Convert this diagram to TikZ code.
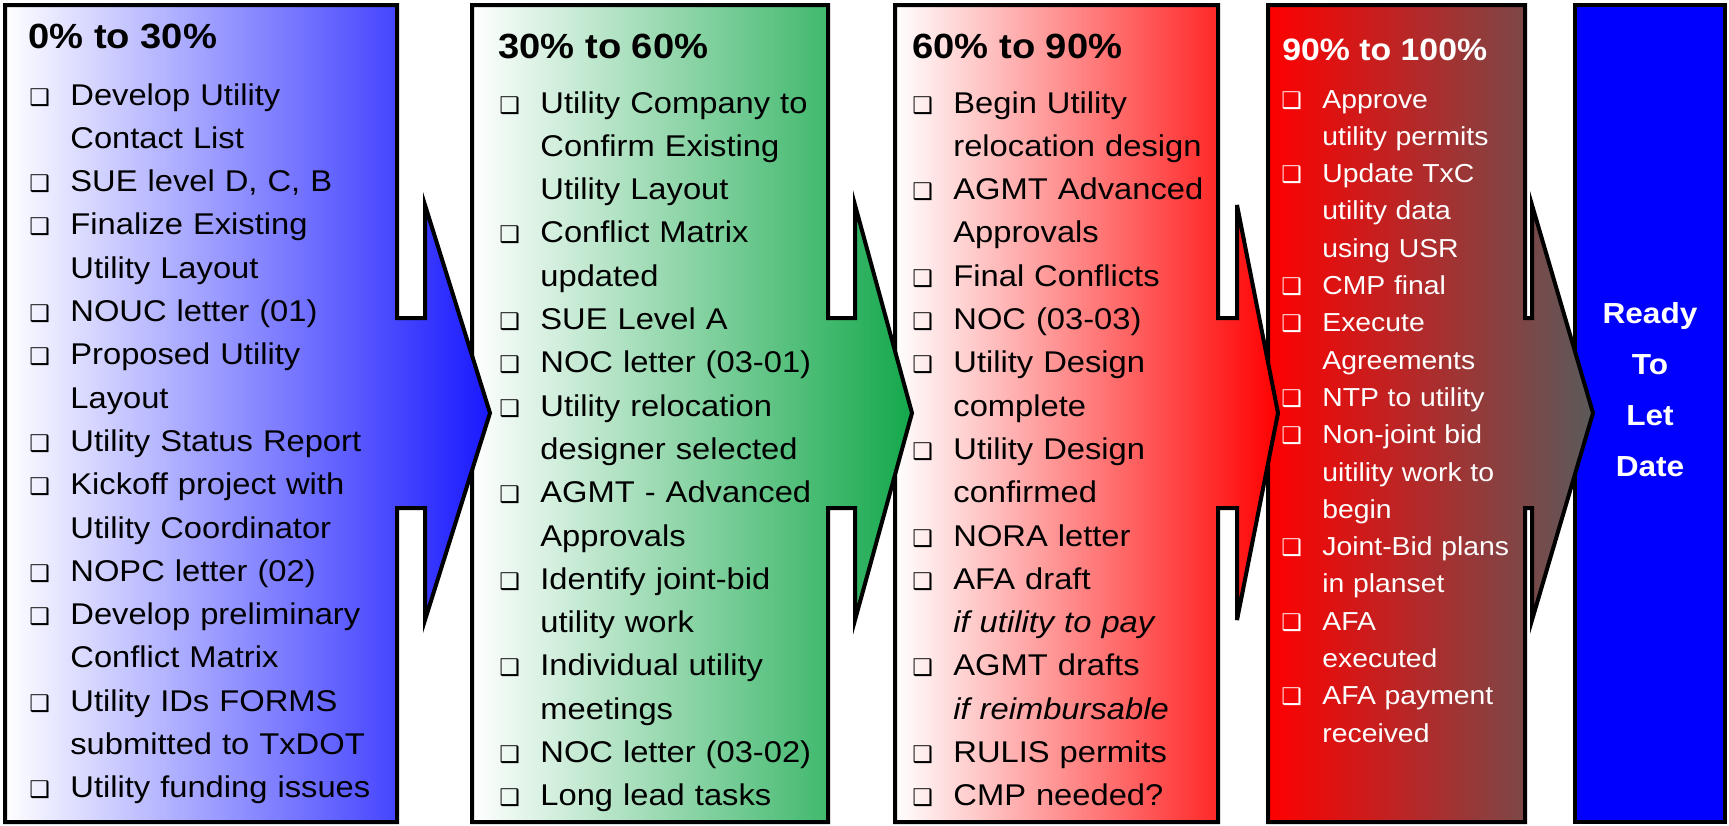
\documentclass[tikz,border=0pt]{standalone}
\usepackage{fontspec}
\setmainfont[FakeStretch=1.09]{Liberation Sans}
\newfontfamily\boxfont{DejaVu Sans}
\usepackage{tikz}

\definecolor{phaseblue}{RGB}{25,25,255}
\definecolor{phasegreen}{RGB}{20,168,75}
\definecolor{phasered}{RGB}{255,0,0}
\definecolor{phasegray}{RGB}{90,90,90}
\definecolor{letblue}{RGB}{0,0,255}

\newlength{\bulletind}
\setlength{\bulletind}{20.5pt}
\newcommand{\bx}{{\boxfont\fontsize{11.5}{11.5}\selectfont ❑}}
\newcommand{\itm}[1]{\hangindent=\bulletind\hangafter=1\noindent\hbox to\bulletind{\bx\hfil}#1\par}

\begin{document}
\begin{tikzpicture}[x=0.5pt, y=-0.5pt,
    panel/.style={draw=black, line width=2pt, line join=miter},
    head/.style={anchor=base west, inner sep=0pt, font=\fontsize{17.5}{21}\selectfont\bfseries},
    items/.style={anchor=base west, inner sep=0pt, text width=190pt, align=left,
      font=\fontsize{15}{21.65}\selectfont},
    smallitems/.style={items, text=white, font=\fontsize{13}{18.65}\selectfont}]
      \useasboundingbox (0,0) rectangle (1729,825);
      \draw[panel, fill=letblue] (1575,5) rectangle (1725,822);
      \draw[panel, left color=phasered, right color=phasegray] (1268,5) -- (1525,5) -- (1525,318)
        -- (1532,318) -- (1532,205) -- (1593,413) -- (1532,620) -- (1532,508) -- (1525,508)
        -- (1525,822) -- (1268,822) -- cycle;
      \draw[panel, left color=white, right color=phasered] (895,5) -- (1218,5) -- (1218,318)
        -- (1237,318) -- (1237,205) -- (1278,413) -- (1237,620) -- (1237,508) -- (1218,508)
        -- (1218,822) -- (895,822) -- cycle;
      \draw[panel, left color=white, right color=phasegreen] (472,5) -- (828,5) -- (828,318)
        -- (855,318) -- (855,205) -- (912,413) -- (855,620) -- (855,508) -- (828,508)
        -- (828,822) -- (472,822) -- cycle;
      \draw[panel, left color=white, right color=phaseblue] (5,5) -- (397,5) -- (397,318)
        -- (425,318) -- (425,205) -- (490,413) -- (425,620) -- (425,508) -- (397,508)
        -- (397,822) -- (5,822) -- cycle;

      \node[head] (h1) at (28,48) {0\% to 30\%};
      \node[items] (t1) at (29,105) {\itm{Develop Utility\newline Contact List}%
        \itm{SUE level D, C, B}%
        \itm{Finalize Existing\newline Utility Layout}%
        \itm{NOUC letter (01)}%
        \itm{Proposed Utility\newline Layout}%
        \itm{Utility Status Report}%
        \itm{Kickoff project with\newline Utility Coordinator}%
        \itm{NOPC letter (02)}%
        \itm{Develop preliminary\newline Conflict Matrix}%
        \itm{Utility IDs FORMS\newline submitted to TxDOT}%
        \itm{Utility funding issues}};

      \node[head] (h2) at (498,58) {30\% to 60\%};
      \node[items] (t2) at (499,113) {\itm{Utility Company to\newline Confirm Existing\newline Utility Layout}%
        \itm{Conflict Matrix\newline updated}%
        \itm{SUE Level A}%
        \itm{NOC letter (03-01)}%
        \itm{Utility relocation\newline designer selected}%
        \itm{AGMT - Advanced\newline Approvals}%
        \itm{Identify joint-bid\newline utility work}%
        \itm{Individual utility\newline meetings}%
        \itm{NOC letter (03-02)}%
        \itm{Long lead tasks}};

      \node[head] (h3) at (912,58) {60\% to 90\%};
      \node[items] (t3) at (912,113) {\itm{Begin Utility\newline relocation design}%
        \itm{AGMT Advanced\newline Approvals}%
        \itm{Final Conflicts}%
        \itm{NOC (03-03)}%
        \itm{Utility Design\newline complete}%
        \itm{Utility Design\newline confirmed}%
        \itm{NORA letter}%
        \itm{AFA draft\newline \textit{if utility to pay}}%
        \itm{AGMT drafts\newline \textit{if reimbursable}}%
        \itm{RULIS permits}%
        \itm{CMP needed?}};

      \node[head, text=white, font=\fontsize{15.5}{19}\selectfont\bfseries] (h4) at (1282,60) {90\% to 100\%};
      \node[smallitems] (t4) at (1281,108) {\itm{Approve\newline utility permits}%
        \itm{Update TxC\newline utility data\newline using USR}%
        \itm{CMP final}%
        \itm{Execute\newline Agreements}%
        \itm{NTP to utility}%
        \itm{Non-joint bid\newline uitility work to\newline begin}%
        \itm{Joint-Bid plans\newline in planset}%
        \itm{AFA\newline executed}%
        \itm{AFA payment\newline received}};

      \node[anchor=base, inner sep=0pt, text width=70pt, align=center, text=white,
        font=\fontsize{14.5}{25.5}\selectfont\bfseries] (ready) at (1650,323) {Ready\\To\\Let\\Date};
\end{tikzpicture}
\end{document}
